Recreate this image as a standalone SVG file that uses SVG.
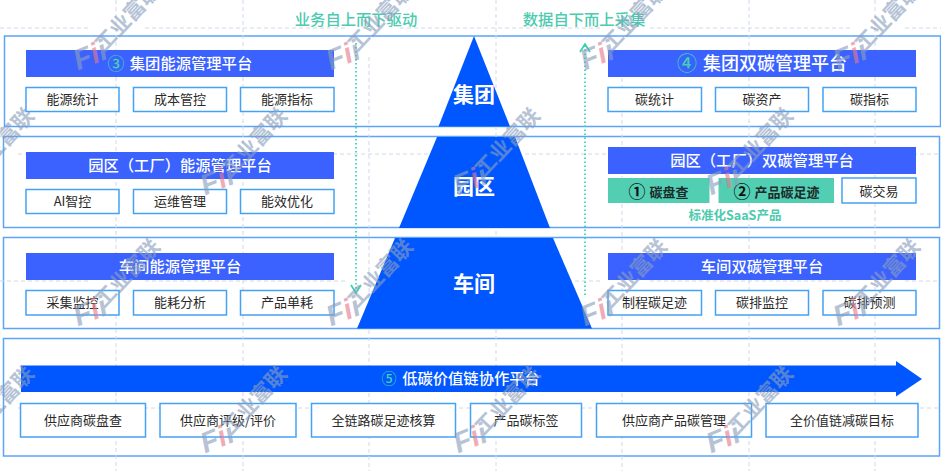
<svg xmlns="http://www.w3.org/2000/svg" width="941" height="471" viewBox="0 0 941 471">
<style>
text{font-family:"Noto Sans CJK SC","Noto Sans",sans-serif;text-anchor:middle}
.grid{stroke:#cfd9ea;stroke-width:1;stroke-dasharray:4 3;fill:none}
.panel{fill:#fff;stroke:#5ba4f7;stroke-width:1.5}
.pyr{fill:#0057ff}
.bar{fill:#3b62ff}
.box{fill:#fff;stroke:#44a2f5;stroke-width:1.5}
.green{fill:#52cfb3}
.lb{font-size:13px;fill:#2a2a2a}
.tt{font-size:15.3px;fill:#fff;font-weight:500}
.hd{font-size:15.3px;fill:#4ccbae;font-weight:500}
.py{font-size:21px;fill:#fff;font-weight:700}
.num{fill:#3fd3ae;font-weight:500}
.flow{stroke:#2fd3ae;stroke-width:1.7;fill:none}
.wm{fill:#8b9fbe;font-size:21px;font-weight:700;text-anchor:start}
.wl{fill:#8b9fbe;font-family:"Liberation Sans",sans-serif;font-size:29px;font-weight:700;font-style:italic;text-anchor:middle}
.wr{fill:#e8788c}
</style>
<defs>
<g id="wmk" opacity="0.62">
<text class="wl" transform="rotate(-22) translate(0,10)">F<tspan class="wr">i</tspan><tspan>i</tspan></text>
<text class="wm" transform="rotate(-47) translate(11,9)">工业富联</text>
</g>
</defs>
<g id="panels">
<rect class="panel" x="4.5" y="36" width="936" height="90.5"/>
<rect class="panel" x="3.5" y="136.5" width="936" height="91"/>
<rect class="panel" x="3.5" y="237.5" width="936" height="91"/>
<rect class="panel" x="3.5" y="338.5" width="936" height="117.5"/>
</g>
<g id="grid">
<path class="grid" d="M116 0V471M243 0V471M369 57V471M496 0V471M622 57V471M749 0V471M875 0V471"/>
<path class="grid" d="M0 28H90M145 28H345M400 28H600M650 28H850M905 28H941M18 154H215M270 154H470M525 154H725M780 154H941M0 281H90M145 281H345M400 281H600M650 281H850M905 281H941M18 408H215M270 408H470M525 408H725M780 408H941"/>
</g>
<g id="pyramid">
<polygon class="pyr" points="474,36 510,126.5 438.5,126.5"/>
<polygon class="pyr" points="437,137 515,137 550,228 399,228"/>
<polygon class="pyr" points="395,238 553,238 592,328.5 357,328.5"/>
<text class="py" x="474" y="102">集团</text>
<text class="py" x="474" y="194">园区</text>
<text class="py" x="474" y="291">车间</text>
</g>
<g id="connectors">
<path class="flow" stroke-dasharray="1.5 2.5" d="M356 43V293"/>
<path class="flow" d="M351 285L356 293L361 285"/>
<path class="flow" stroke-dasharray="1.5 2.5" d="M585 295V45"/>
<path class="flow" d="M580 52L585 44L590 52"/>
</g>
<g id="heading-down"><text class="hd" x="356" y="25">业务自上而下驱动</text></g>
<g id="heading-up"><text class="hd" x="584" y="25">数据自下而上采集</text></g>
<g id="left-group">
<rect class="bar" x="26" y="50" width="308" height="27"/>
<text class="num" x="116" y="70" font-size="17">③</text>
<text class="tt" x="191" y="69">集团能源管理平台</text>
<rect class="box" x="26" y="87.5" width="93" height="24"/><text class="lb" x="72.5" y="104">能源统计</text>
<rect class="box" x="133.5" y="87.5" width="93" height="24"/><text class="lb" x="180" y="104">成本管控</text>
<rect class="box" x="240.5" y="87.5" width="93.5" height="24"/><text class="lb" x="287" y="104">能源指标</text>
</g>
<g id="left-park">
<rect class="bar" x="26" y="152" width="308" height="27"/>
<text class="tt" x="180" y="171">园区（工厂）能源管理平台</text>
<rect class="box" x="26" y="189.5" width="93" height="24"/><text class="lb" x="72.5" y="206">AI智控</text>
<rect class="box" x="133.5" y="189.5" width="93" height="24"/><text class="lb" x="180" y="206">运维管理</text>
<rect class="box" x="240.5" y="189.5" width="93.5" height="24"/><text class="lb" x="287" y="206">能效优化</text>
</g>
<g id="left-shop">
<rect class="bar" x="26" y="253" width="308" height="27"/>
<text class="tt" x="180" y="272">车间能源管理平台</text>
<rect class="box" x="26" y="290.5" width="93" height="24.5"/><text class="lb" x="72.5" y="307">采集监控</text>
<rect class="box" x="133.5" y="290.5" width="93" height="24.5"/><text class="lb" x="180" y="307">能耗分析</text>
<rect class="box" x="240.5" y="290.5" width="93.5" height="24.5"/><text class="lb" x="287" y="307">产品单耗</text>
</g>
<g id="right-group">
<rect class="bar" x="608" y="50" width="308" height="27"/>
<text class="num" x="687" y="71" font-size="20">④</text>
<text class="tt" style="font-size:18px" x="775" y="70">集团双碳管理平台</text>
<rect class="box" x="608" y="87.5" width="93.5" height="24"/><text class="lb" x="654.5" y="104">碳统计</text>
<rect class="box" x="715.5" y="87.5" width="93" height="24"/><text class="lb" x="762" y="104">碳资产</text>
<rect class="box" x="823" y="87.5" width="93" height="24"/><text class="lb" x="869.5" y="104">碳指标</text>
</g>
<g id="right-park">
<rect class="bar" x="608" y="147" width="308" height="27"/>
<text class="tt" x="762" y="166">园区（工厂）双碳管理平台</text>
<rect class="green" x="608" y="178" width="101.5" height="25"/>
<text x="637" y="198" font-size="17" font-weight="700" fill="#111">①</text>
<text x="669" y="197" font-size="13" font-weight="700" fill="#1c2b2a">碳盘查</text>
<rect class="green" x="718.5" y="178" width="115.5" height="25"/>
<text x="742" y="198" font-size="17" font-weight="700" fill="#111">②</text>
<text x="787" y="197" font-size="13" font-weight="700" fill="#1c2b2a">产品碳足迹</text>
<rect class="box" x="842" y="178" width="74" height="25"/><text class="lb" x="879" y="196">碳交易</text>
</g>
<g id="saas"><text x="735" y="220" font-size="12.5" font-weight="700" fill="#4ccbae">标准化SaaS产品</text></g>
<g id="right-shop">
<rect class="bar" x="608" y="253" width="308" height="27"/>
<text class="tt" x="762" y="272">车间双碳管理平台</text>
<rect class="box" x="608" y="290.5" width="93.5" height="24.5"/><text class="lb" x="654.5" y="307">制程碳足迹</text>
<rect class="box" x="715.5" y="290.5" width="93" height="24.5"/><text class="lb" x="762" y="307">碳排监控</text>
<rect class="box" x="823" y="290.5" width="93" height="24.5"/><text class="lb" x="869.5" y="307">碳排预测</text>
</g>
<g id="value-chain">
<polygon class="pyr" points="21,365.5 896,365.5 896,361 922,379 896,396.5 896,392 21,392"/>
<text class="num" x="389" y="384" font-size="15">⑤</text>
<text class="tt" x="471" y="384">低碳价值链协作平台</text>
<rect class="box" x="20.5" y="403.5" width="125" height="33.5"/><text class="lb" x="83" y="425">供应商碳盘查</text>
<rect class="box" x="160" y="403.5" width="136" height="33.5"/><text class="lb" x="228" y="425">供应商评级/评价</text>
<rect class="box" x="311.5" y="403.5" width="144" height="33.5"/><text class="lb" x="383.5" y="425">全链路碳足迹核算</text>
<rect class="box" x="470.5" y="403.5" width="111" height="33.5"/><text class="lb" x="526" y="425">产品碳标签</text>
<rect class="box" x="596.5" y="403.5" width="155" height="33.5"/><text class="lb" x="674" y="425">供应商产品碳管理</text>
<rect class="box" x="766" y="403.5" width="152" height="33.5"/><text class="lb" x="842" y="425">全价值链减碳目标</text>
</g>
<g id="watermarks">
<use href="#wmk" x="90" y="55"/><use href="#wmk" x="343" y="55"/><use href="#wmk" x="597" y="55"/><use href="#wmk" x="850" y="55"/>
<use href="#wmk" x="-36" y="180"/><use href="#wmk" x="217" y="180"/><use href="#wmk" x="470" y="180"/><use href="#wmk" x="723" y="180"/>
<use href="#wmk" x="90" y="311"/><use href="#wmk" x="343" y="311"/><use href="#wmk" x="597" y="311"/><use href="#wmk" x="850" y="311"/>
<use href="#wmk" x="-36" y="438"/><use href="#wmk" x="217" y="438"/><use href="#wmk" x="470" y="438"/><use href="#wmk" x="723" y="438"/>
</g>
</svg>
